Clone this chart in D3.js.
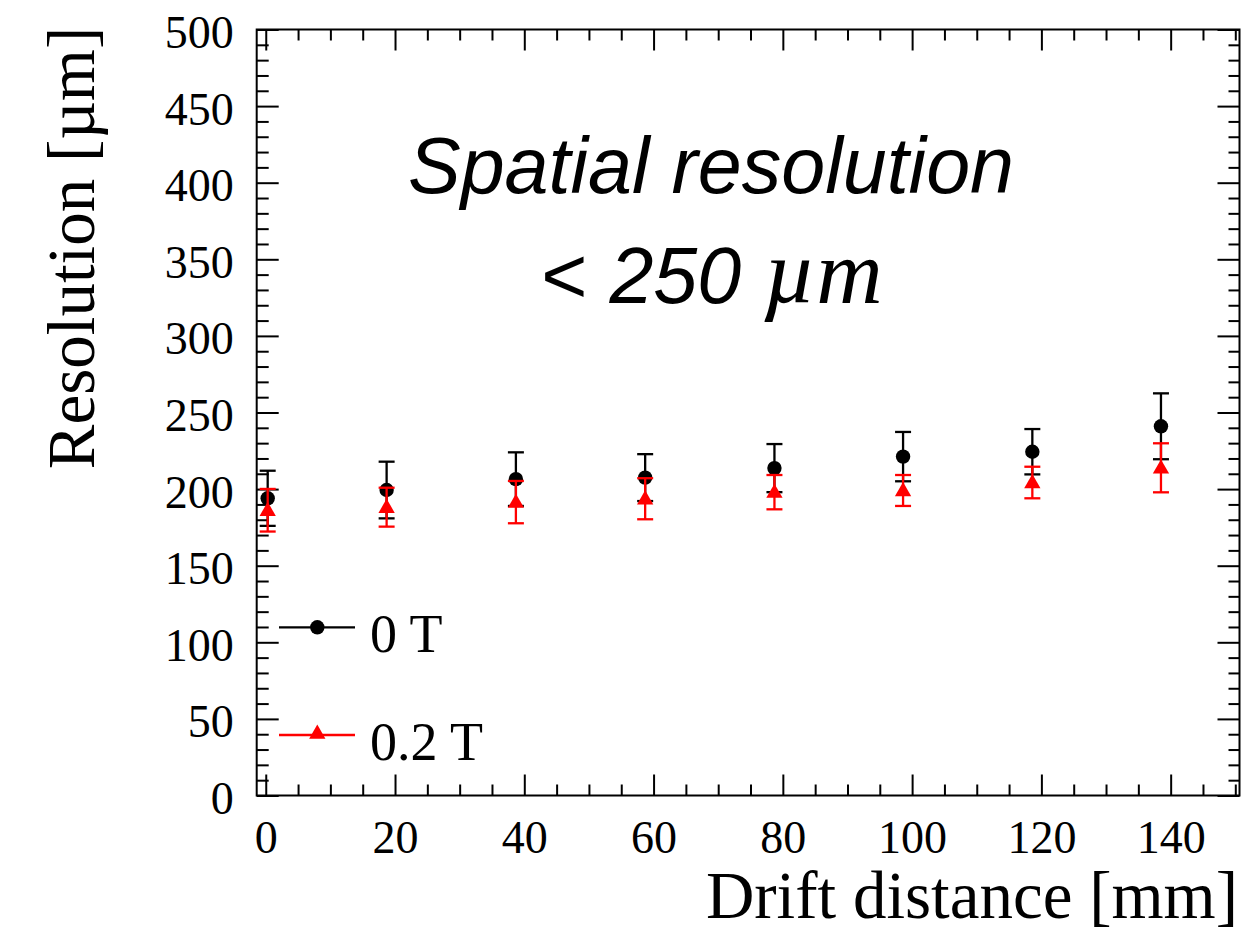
<!DOCTYPE html>
<html>
<head>
<meta charset="utf-8">
<script src="https://cdn.jsdelivr.net/npm/d3@7"></script>
<style>
  html, body { margin: 0; padding: 0; background: #fff; }
  svg { display: block; }
</style>
</head>
<body>
<svg id="chart" width="1250" height="934"></svg>
<script>
// Drift distance of each measurement point [mm]
const distance = [0.3, 18.7, 38.7, 58.7, 78.7, 98.6, 118.6, 138.5];
// Resolution without magnetic field [µm] and its error
const res0T = [194.0, 199.4, 206.5, 207.5, 213.7, 221.2, 224.4, 241.0];
const err0T = [18.0, 18.5, 17.5, 15.3, 15.7, 16.1, 14.8, 21.5];
// Resolution at 0.2 T [µm] and its error
const res02T = [186.2, 188.2, 191.5, 193.7, 198.0, 199.1, 204.3, 213.9];
const err02T = [13.9, 12.7, 13.8, 13.4, 11.2, 10.1, 10.3, 16.0];

const seriesLabels = ["0 T", "0.2 T"];
const xMajorTicks = [0, 20, 40, 60, 80, 100, 120, 140];
const yMajorTicks = [0, 50, 100, 150, 200, 250, 300, 350, 400, 450, 500];

const svg = d3.select("#chart");
const serif = "'Liberation Serif', 'Times New Roman', serif";
const sans = "'Liberation Sans', Arial, sans-serif";

const frameL = 256.7, frameR = 1239.5, frameT = 29.5, frameB = 795.5;
const x = d3.scaleLinear().domain([-1.4, 150.65]).range([frameL, frameR]);
const y = d3.scaleLinear().domain([0, 500]).range([frameB, frameT]);

const xMinor = d3.range(0, 151, 5).filter(v => v % 20 !== 0);
const yMinor = d3.range(0, 501, 10).filter(v => v % 50 !== 0);

function styleAxis(g) {
  g.select(".domain").remove();
  g.selectAll(".tick line").attr("stroke", "#000").attr("stroke-width", 2);
}

// bottom axis with labels
const gx = svg.append("g").attr("transform", `translate(0,${frameB})`)
  .call(d3.axisBottom(x).tickValues(xMajorTicks).tickSize(-21).tickFormat(d3.format("d")));
styleAxis(gx);
gx.selectAll(".tick text")
  .attr("y", 57).attr("dy", 0)
  .attr("font-family", serif).attr("font-size", 46).attr("fill", "#000");
svg.append("g").attr("transform", `translate(0,${frameB})`)
  .call(d3.axisBottom(x).tickValues(xMinor).tickSize(-11).tickFormat(""))
  .call(styleAxis);

// top mirrored ticks
svg.append("g").attr("transform", `translate(0,${frameT})`)
  .call(d3.axisTop(x).tickValues(xMajorTicks).tickSize(-21).tickFormat(""))
  .call(styleAxis);
svg.append("g").attr("transform", `translate(0,${frameT})`)
  .call(d3.axisTop(x).tickValues(xMinor).tickSize(-11).tickFormat(""))
  .call(styleAxis);

// left axis with labels
const gy = svg.append("g").attr("transform", `translate(${frameL},0)`)
  .call(d3.axisLeft(y).tickValues(yMajorTicks).tickSize(-22).tickPadding(23).tickFormat(d3.format("d")));
styleAxis(gy);
gy.selectAll(".tick text")
  .attr("dy", "0.39em")
  .attr("font-family", serif).attr("font-size", 46).attr("fill", "#000");
svg.append("g").attr("transform", `translate(${frameL},0)`)
  .call(d3.axisLeft(y).tickValues(yMinor).tickSize(-12).tickFormat(""))
  .call(styleAxis);

// right mirrored ticks
svg.append("g").attr("transform", `translate(${frameR},0)`)
  .call(d3.axisRight(y).tickValues(yMajorTicks).tickSize(-22).tickFormat(""))
  .call(styleAxis);
svg.append("g").attr("transform", `translate(${frameR},0)`)
  .call(d3.axisRight(y).tickValues(yMinor).tickSize(-11).tickFormat(""))
  .call(styleAxis);

// frame
svg.append("rect")
  .attr("x", frameL).attr("y", frameT)
  .attr("width", frameR - frameL).attr("height", frameB - frameT)
  .attr("fill", "none").attr("stroke", "#000").attr("stroke-width", 2);

// axis titles
svg.append("text")
  .attr("transform", `translate(94,248) rotate(-90)`)
  .attr("text-anchor", "middle")
  .attr("font-family", serif).attr("font-size", 67).attr("fill", "#000")
  .text("Resolution [µm]");
svg.append("text")
  .attr("x", 1238).attr("y", 918)
  .attr("text-anchor", "end")
  .attr("font-family", serif).attr("font-size", 67).attr("fill", "#000")
  .text("Drift distance [mm]");

// annotation
svg.append("text")
  .attr("x", 711).attr("y", 193)
  .attr("text-anchor", "middle")
  .attr("font-family", sans).attr("font-style", "italic").attr("font-size", 79).attr("fill", "#000")
  .text("Spatial resolution");
const note2 = svg.append("text")
  .attr("x", 712).attr("y", 303)
  .attr("text-anchor", "middle")
  .attr("font-family", sans).attr("font-style", "italic").attr("font-size", 79).attr("fill", "#000");
note2.append("tspan").attr("font-style", "normal").text("< ");
note2.append("tspan").text("250 ");
note2.append("tspan").attr("font-family", serif).attr("font-size", 92).text("µm");

// series
const triangle = d3.symbol().type(d3.symbolTriangle).size(115);
const capHalf = 8;

function drawSeries(values, errors, color, marker) {
  const g = svg.append("g");
  const pts = distance.map((d, i) => ({ x: d, v: values[i], e: errors[i] }));
  const bars = g.selectAll("g.err").data(pts).join("g").attr("class", "err")
    .attr("stroke", color).attr("stroke-width", 2.3);
  bars.append("line")
    .attr("x1", d => x(d.x)).attr("x2", d => x(d.x))
    .attr("y1", d => y(d.v - d.e)).attr("y2", d => y(d.v + d.e));
  bars.append("line")
    .attr("x1", d => x(d.x) - capHalf).attr("x2", d => x(d.x) + capHalf)
    .attr("y1", d => y(d.v + d.e)).attr("y2", d => y(d.v + d.e));
  bars.append("line")
    .attr("x1", d => x(d.x) - capHalf).attr("x2", d => x(d.x) + capHalf)
    .attr("y1", d => y(d.v - d.e)).attr("y2", d => y(d.v - d.e));
  if (marker === "circle") {
    g.selectAll("circle").data(pts).join("circle")
      .attr("cx", d => x(d.x)).attr("cy", d => y(d.v)).attr("r", 7.2).attr("fill", color);
  } else {
    g.selectAll("path.m").data(pts).join("path").attr("class", "m")
      .attr("d", triangle)
      .attr("transform", d => `translate(${x(d.x)},${y(d.v) + 1})`)
      .attr("fill", color);
  }
}
drawSeries(res0T, err0T, "#000", "circle");
drawSeries(res02T, err02T, "#ff0000", "triangle");

// legend
const legendRows = [
  { label: seriesLabels[0], color: "#000", marker: "circle", y: 627.3 },
  { label: seriesLabels[1], color: "#ff0000", marker: "triangle", y: 735 }
];
const lg = svg.append("g");
legendRows.forEach(r => {
  lg.append("line").attr("x1", 279).attr("x2", 355).attr("y1", r.y).attr("y2", r.y)
    .attr("stroke", r.color).attr("stroke-width", 2.3);
  if (r.marker === "circle") {
    lg.append("circle").attr("cx", 317.3).attr("cy", r.y).attr("r", 7.2).attr("fill", r.color);
  } else {
    lg.append("path").attr("d", triangle).attr("transform", `translate(317.3,${r.y - 1})`).attr("fill", r.color);
  }
  lg.append("text").attr("x", 370).attr("y", r.y + 24.5)
    .attr("font-family", serif).attr("font-size", 54).attr("fill", "#000")
    .text(r.label);
});
</script>
</body>
</html>
